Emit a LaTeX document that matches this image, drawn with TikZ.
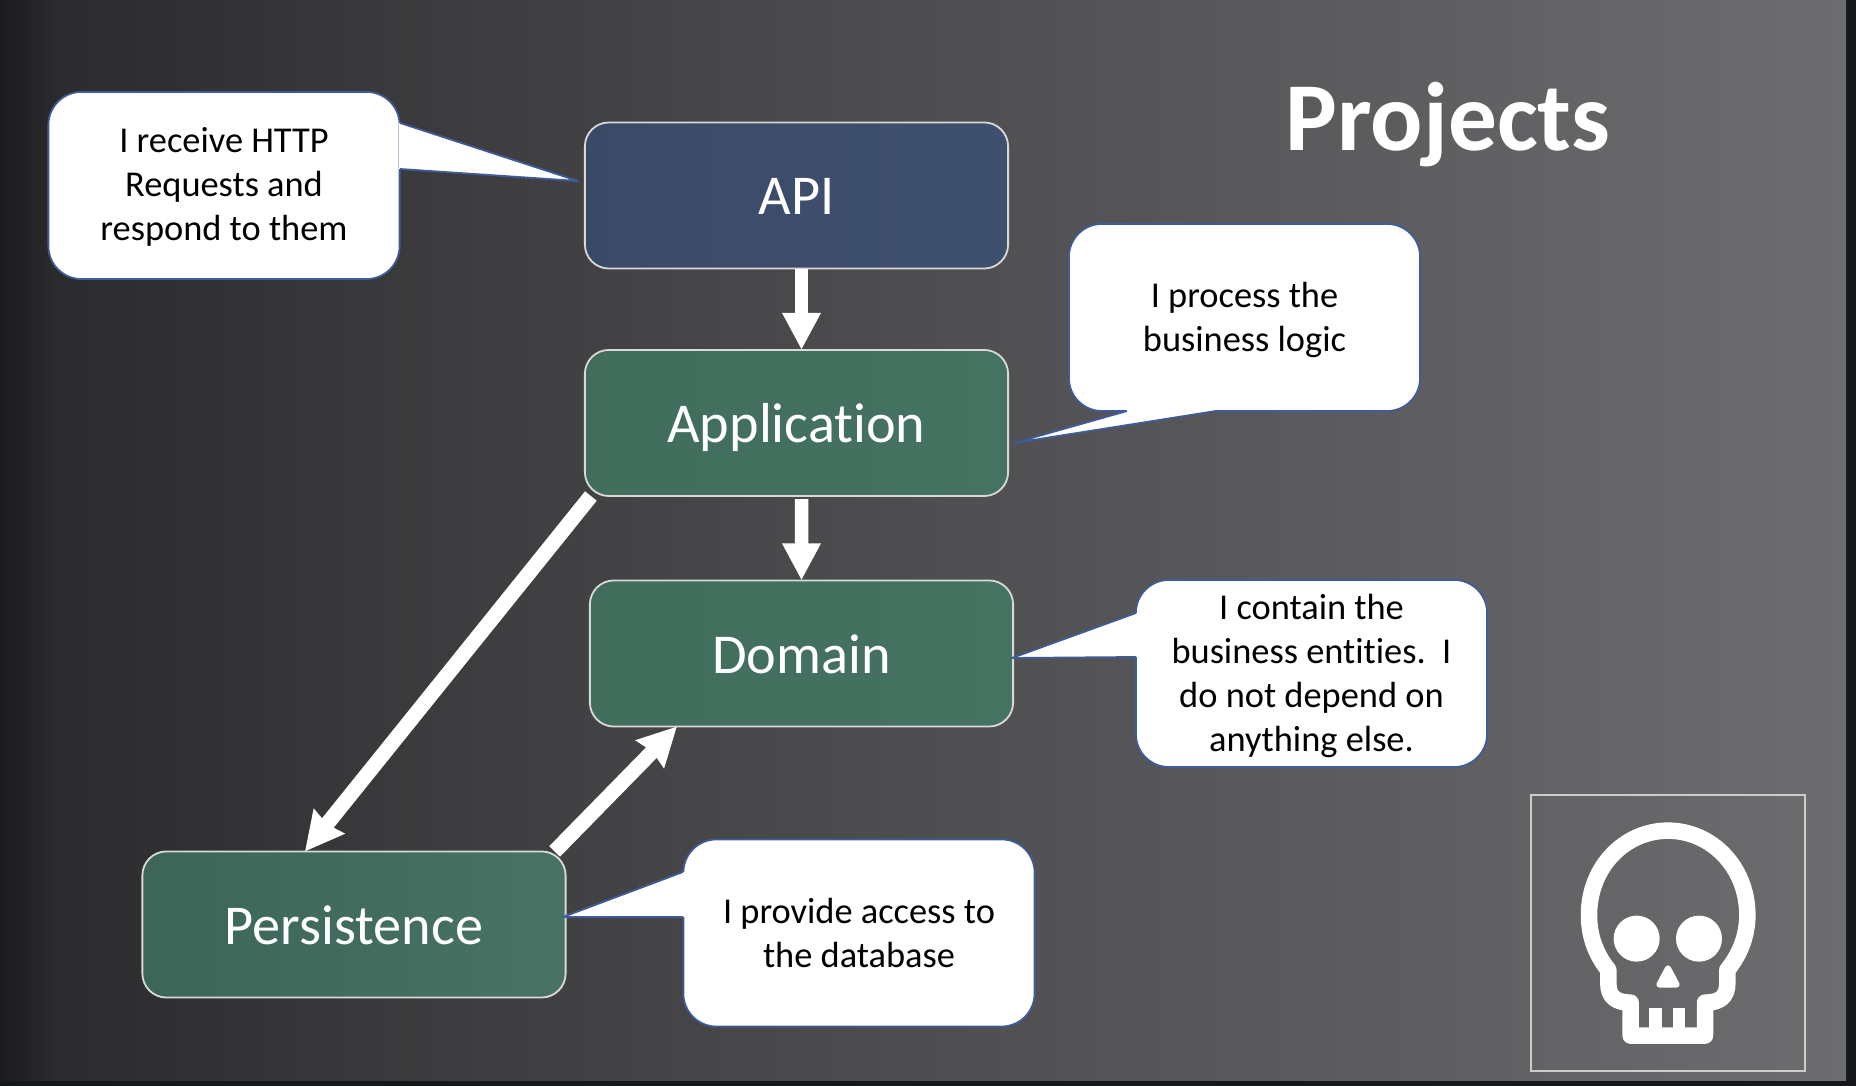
\documentclass[tikz,border=0pt]{standalone}
\usepackage{fontspec}
\setmainfont{Carlito}[Ligatures=NoCommon]
\usetikzlibrary{arrows.meta}
\definecolor{framedark}{HTML}{14171C}
\definecolor{apifill}{HTML}{3F506F}
\definecolor{layerfill}{HTML}{457361}
\definecolor{persistfill}{HTML}{3E6B5C}
\definecolor{calloutline}{HTML}{3F5C9A}
\definecolor{bga}{HTML}{1B1B1D}
\definecolor{bgb}{HTML}{2B2B2D}
\definecolor{bgc}{HTML}{3D3D3F}
\definecolor{bgd}{HTML}{4E4E50}
\definecolor{bge}{HTML}{5D5D5F}
\definecolor{bgf}{HTML}{6D6D6F}
\pgfdeclarehorizontalshading{slideramp}{100bp}{color(0bp)=(bga); color(25bp)=(bga); color(26.5bp)=(bgb); color(37.5bp)=(bgc); color(50bp)=(bgd); color(62.5bp)=(bge); color(75bp)=(bgf); color(100bp)=(bgf)}
\tikzset{
  layerbox/.style={draw=white!85!black,line width=.18mm,rounded corners=.24cm,minimum width=4.23cm,minimum height=1.46cm,outer sep=0pt,text=white,text height=.39cm,text depth=0pt,font=\fontsize{16}{18}\selectfont},
  saybox/.style={draw=calloutline,line width=.18mm,fill=white,rounded corners=.33cm,minimum width=3.51cm,minimum height=1.87cm,outer sep=0pt,align=center,text=black,text depth=0pt,text height=#1,font=\fontsize{10.35}{12.5}\selectfont},
  saytail/.style={draw=calloutline,line width=.18mm,line join=round},
  saybase/.style={draw=white,line width=.3mm},
  blockarrow/.style={draw=white,line width=.135cm,-{Triangle[length=.37cm,width=.36cm]}},
  slantarrow/.style={draw=white,line width=.15cm,-{Stealth[inset=.03cm,length=.38cm,width=.38cm]}},
  skullline/.style={draw=white,line width=.165cm,line join=round}
}
\begin{document}
\begin{tikzpicture}[x=.01cm,y=-.01cm]
  \useasboundingbox (0,0) rectangle (1856,1086);
  \fill[framedark] (0,0) rectangle (1856,1086);
  \shade[shading=slideramp] (0,0) rectangle (1846,1081);
  % layers
  \node[layerbox,left color=apifill!92!black,right color=apifill] (api) at (796.5,195.5) {API};
  \node[layerbox,left color=layerfill!95!black,right color=layerfill] (application) at (796.5,423) {Application};
  \node[layerbox,left color=layerfill!95!black,right color=layerfill] (domain) at (801.5,653.5) {Domain};
  \node[layerbox,left color=persistfill!95!black,right color=persistfill!95!white] (persistence) at (354,924.5) {Persistence};
  % arrows
  \draw[blockarrow] ([xshift=.05cm]api.south) -- ([xshift=.05cm]application.north);
  \draw[blockarrow,shorten <=.03cm] ([xshift=.05cm]application.south) -- (domain.north);
  \draw[slantarrow] ([xshift=.06cm]application.south west) -- ([xshift=-.49cm]persistence.north);
  \draw[slantarrow] ([xshift=-.11cm]persistence.north east) -- ([xshift=.87cm]domain.south west);
  % callouts
  \node[saybox=1.1cm] (sayapi) at (224,185.5) {I receive HTTP\\Requests and\\respond to them};
  \coordinate (apitip) at (578,181);
  \coordinate (apia) at (400,123);
  \coordinate (apib) at (400,169);
  \fill[white] (apia) -- (apitip) -- (apib) -- cycle;
  \draw[saybase] (apia) -- (apib);
  \draw[saytail] (apia) -- (apitip) -- (apib);
  \node[saybox=.68cm] (sayapp) at (1244.5,317.5) {I process the\\business logic};
  \coordinate (apptip) at (1014,443);
  \coordinate (appa) at (1127,411);
  \coordinate (appb) at (1216,411);
  \fill[white] (appa) -- (apptip) -- (appb) -- cycle;
  \draw[saybase] (appa) -- (appb);
  \draw[saytail] (appa) -- (apptip) -- (appb);
  \node[saybox=1.55cm] (saydom) at (1311.5,673.5) {I contain the\\business entities.\ \ I\\do not depend on\\anything else.};
  \coordinate (domtip) at (1012,658);
  \coordinate (doma) at (1136,613);
  \coordinate (domb) at (1136,657);
  \fill[white] (doma) -- (domtip) -- (domb) -- cycle;
  \draw[saybase] (doma) -- (domb);
  \draw[saytail] (doma) -- (domtip) -- (domb);
  \node[saybox=.68cm] (saydb) at (859,933) {I provide access to\\the database};
  \coordinate (dbtip) at (563,917);
  \coordinate (dba) at (683,872);
  \coordinate (dbb) at (683,917);
  \fill[white] (dba) -- (dbtip) -- (dbb) -- cycle;
  \draw[saybase] (dba) -- (dbb);
  \draw[saytail] (dba) -- (dbtip) -- (dbb);
  % title
  \node[text=white,font=\bfseries\fontsize{27.7}{32}\selectfont] (title) at (1448,124.5) {Projects};
  % skull
  \node[draw=white!80!black,line width=.2mm,minimum width=2.74cm,minimum height=2.76cm,outer sep=0pt] (skullframe) at (1668,933) {};
  \begin{scope}[shift={(1500,770)},x=.01cm/3,y=-.01cm/3]
    \draw[skullline] (325,600) .. controls (285,550) and (267,495) .. (267,435)
      .. controls (267,290) and (375,182) .. (504,182)
      .. controls (633,182) and (742,290) .. (742,435)
      .. controls (742,495) and (722,550) .. (682,600)
      -- (682,640) .. controls (682,680) and (660,698) .. (615,698)
      -- (615,797) -- (392,797) -- (392,698)
      .. controls (347,698) and (325,680) .. (325,640) -- cycle;
    \fill[white] (447,715) rectangle (487,775);
    \fill[white] (520,715) rectangle (555,775);
    \fill[white] (410,506) circle [radius=69];
    \fill[white] (597,506) circle [radius=69];
    \filldraw[draw=white,fill=white,line width=.06cm,line join=round] (504,595) -- (530,644) -- (478,644) -- cycle;
  \end{scope}
\end{tikzpicture}
\end{document}
